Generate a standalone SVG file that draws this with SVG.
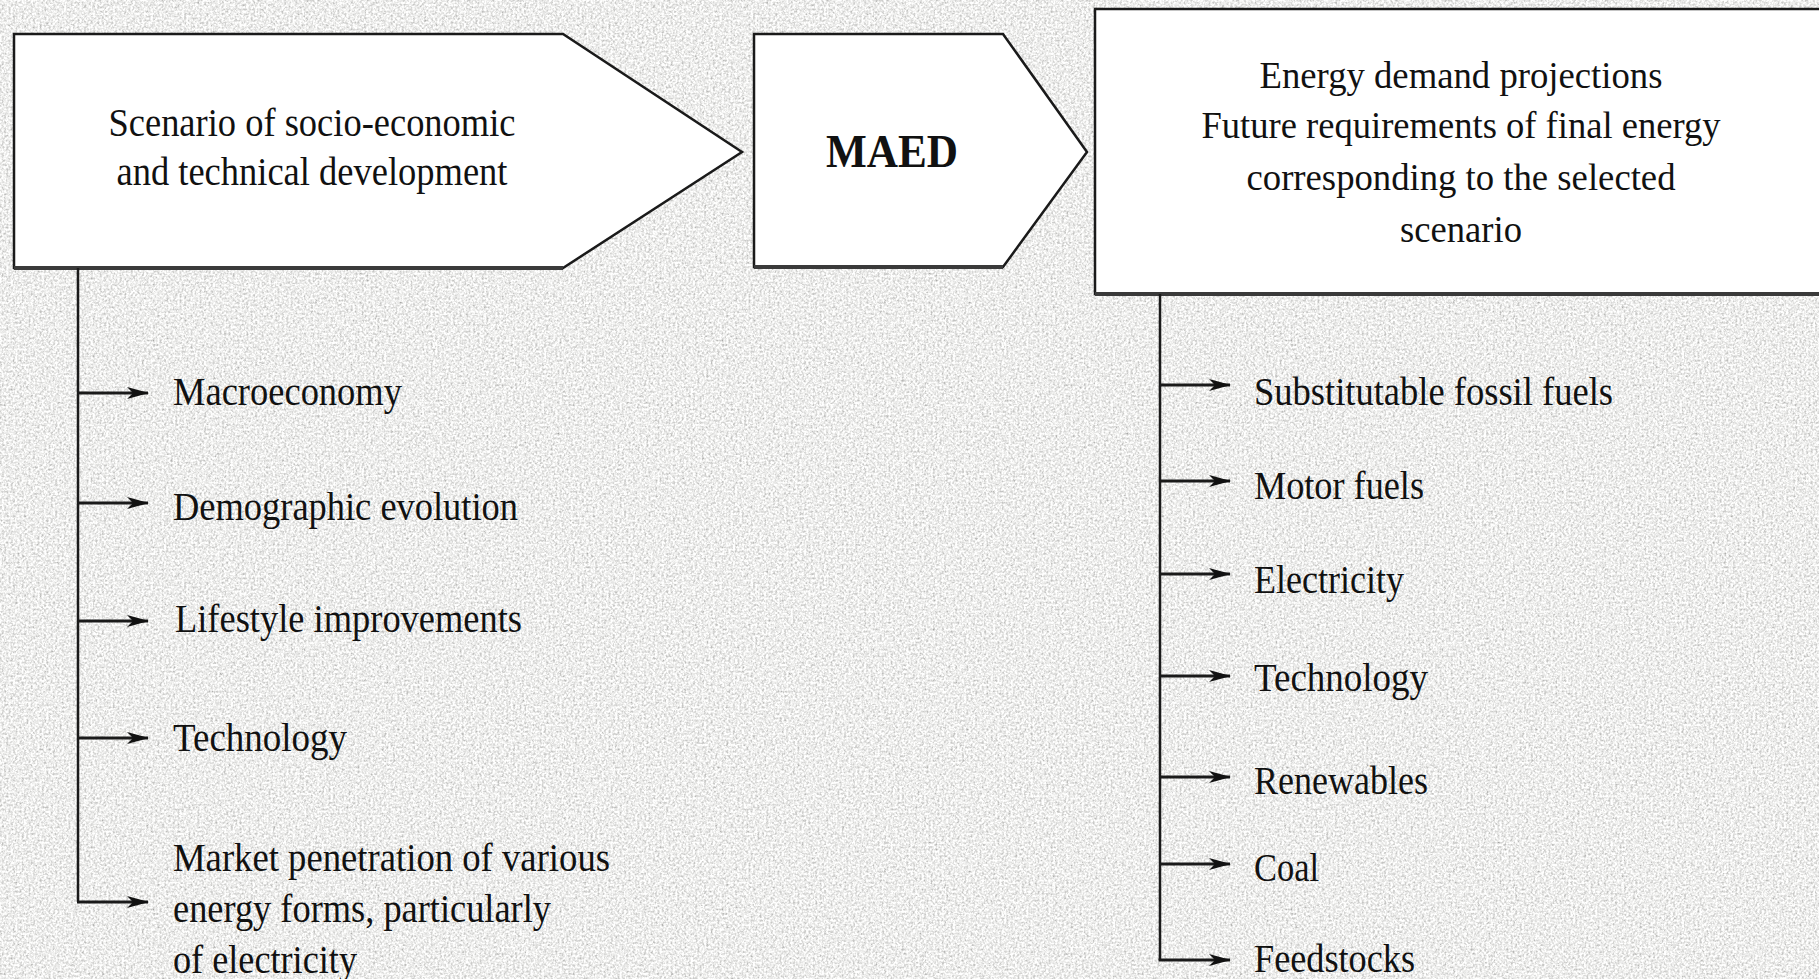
<svg xmlns="http://www.w3.org/2000/svg" width="1819" height="979" viewBox="0 0 1819 979">
<defs>
<filter id="grain" x="0" y="0" width="1819" height="979" filterUnits="userSpaceOnUse">
<feTurbulence type="fractalNoise" baseFrequency="0.45" numOctaves="3" seed="7" result="n"/>
<feColorMatrix in="n" type="saturate" values="0" result="g"/>
<feComponentTransfer in="g">
<feFuncR type="linear" slope="1.3" intercept="0.2"/>
<feFuncG type="linear" slope="1.3" intercept="0.2"/>
<feFuncB type="linear" slope="1.3" intercept="0.19"/>
<feFuncA type="linear" slope="0" intercept="1"/>
</feComponentTransfer>
</filter>
<marker id="arr" markerUnits="userSpaceOnUse" markerWidth="24" markerHeight="14" refX="21" refY="7" orient="auto">
<path d="M0,1 L22,7 L0,13 L6,7 Z" fill="#111"/>
</marker>
<style>
.box{fill:#fff;stroke:#1a1a1a;stroke-width:2.5;stroke-linejoin:miter}
.shadow{stroke:#3a3a3a;stroke-width:4;fill:none}
.t{font-family:"Liberation Serif","Times New Roman",serif;fill:#111}
.title{font-size:39px;text-anchor:middle}
.rt{font-size:37px;text-anchor:middle}
.lbl{font-size:39px}
.trunk{stroke:#1a1a1a;stroke-width:2.5;fill:none}
.arrow{stroke:#1a1a1a;stroke-width:3;fill:none;marker-end:url(#arr)}
</style>
</defs>
<rect x="0" y="0" width="1819" height="979" fill="#d9d8d5"/>
<rect x="0" y="0" width="1819" height="979" filter="url(#grain)"/>

<g id="scenario">
<polygon class="box" points="14,34 563,34 742,152 563,268 14,268"/>
<line class="shadow" x1="14" y1="268" x2="563" y2="268"/>
<text class="t title" x="312" y="136" textLength="407" lengthAdjust="spacingAndGlyphs">Scenario of socio-economic</text>
<text class="t title" x="312" y="185" textLength="391" lengthAdjust="spacingAndGlyphs">and technical development</text>
</g>

<g id="maed">
<polygon class="box" points="754,34 1003,34 1087,152 1003,267 754,267"/>
<line class="shadow" x1="754" y1="267" x2="1003" y2="267"/>
<text class="t" x="892" y="167" font-size="46" font-weight="bold" text-anchor="middle" textLength="132" lengthAdjust="spacingAndGlyphs">MAED</text>
</g>

<g id="projections">
<rect class="box" x="1095" y="9" width="760" height="285"/>
<line class="shadow" x1="1095" y1="294" x2="1819" y2="294"/>
<text class="t rt" x="1461" y="88" textLength="403" lengthAdjust="spacingAndGlyphs">Energy demand projections</text>
<text class="t rt" x="1461" y="138" textLength="519" lengthAdjust="spacingAndGlyphs">Future requirements of final energy</text>
<text class="t rt" x="1461" y="190" textLength="429" lengthAdjust="spacingAndGlyphs">corresponding to the selected</text>
<text class="t rt" x="1461" y="242" textLength="122" lengthAdjust="spacingAndGlyphs">scenario</text>
</g>

<g id="connectors">
<path class="trunk" d="M78,268 V902"/>
<line class="arrow" x1="78" y1="393" x2="148" y2="393"/>
<line class="arrow" x1="78" y1="503" x2="148" y2="503"/>
<line class="arrow" x1="78" y1="621" x2="148" y2="621"/>
<line class="arrow" x1="78" y1="738" x2="148" y2="738"/>
<line class="arrow" x1="77" y1="902" x2="148" y2="902" stroke-width="3.5"/>
<path class="trunk" d="M1160,294 V960" stroke-width="3"/>
<line class="arrow" x1="1160" y1="385" x2="1230" y2="385"/>
<line class="arrow" x1="1160" y1="481" x2="1230" y2="481"/>
<line class="arrow" x1="1160" y1="574" x2="1230" y2="574"/>
<line class="arrow" x1="1160" y1="676" x2="1230" y2="676"/>
<line class="arrow" x1="1160" y1="777" x2="1230" y2="777"/>
<line class="arrow" x1="1160" y1="864" x2="1230" y2="864"/>
<line class="arrow" x1="1158.5" y1="960" x2="1230" y2="960" stroke-width="3.5"/>
</g>

<g id="inputs">
<text class="t lbl" x="173" y="405" textLength="229" lengthAdjust="spacingAndGlyphs">Macroeconomy</text>
<text class="t lbl" x="173" y="520" textLength="345" lengthAdjust="spacingAndGlyphs">Demographic evolution</text>
<text class="t lbl" x="175" y="632" textLength="347" lengthAdjust="spacingAndGlyphs">Lifestyle improvements</text>
<text class="t lbl" x="173" y="751" textLength="174" lengthAdjust="spacingAndGlyphs">Technology</text>
<text class="t lbl" x="173" y="871" textLength="437" lengthAdjust="spacingAndGlyphs">Market penetration of various</text>
<text class="t lbl" x="173" y="922" textLength="378" lengthAdjust="spacingAndGlyphs">energy forms, particularly</text>
<text class="t lbl" x="173" y="973" textLength="184" lengthAdjust="spacingAndGlyphs">of electricity</text>
</g>

<g id="outputs">
<text class="t lbl" x="1254" y="405" textLength="359" lengthAdjust="spacingAndGlyphs">Substitutable fossil fuels</text>
<text class="t lbl" x="1254" y="499" textLength="170" lengthAdjust="spacingAndGlyphs">Motor fuels</text>
<text class="t lbl" x="1254" y="593" textLength="150" lengthAdjust="spacingAndGlyphs">Electricity</text>
<text class="t lbl" x="1254" y="691" textLength="174" lengthAdjust="spacingAndGlyphs">Technology</text>
<text class="t lbl" x="1254" y="794" textLength="174" lengthAdjust="spacingAndGlyphs">Renewables</text>
<text class="t lbl" x="1254" y="881" textLength="65" lengthAdjust="spacingAndGlyphs">Coal</text>
<text class="t lbl" x="1254" y="972" textLength="161" lengthAdjust="spacingAndGlyphs">Feedstocks</text>
</g>
</svg>
